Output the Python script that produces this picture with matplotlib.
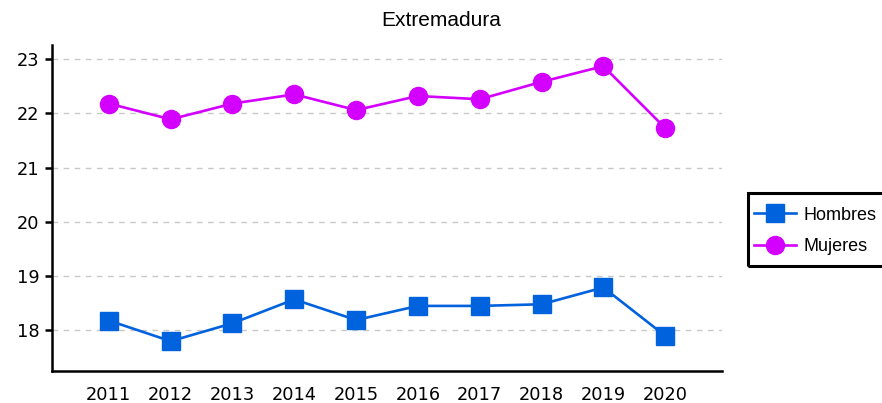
import matplotlib
matplotlib.use("Agg")
import matplotlib.pyplot as plt
from matplotlib.patches import Rectangle

years = [2011, 2012, 2013, 2014, 2015, 2016, 2017, 2018, 2019, 2020]
hombres = [18.18, 17.80, 18.13, 18.57, 18.19, 18.45, 18.45, 18.48, 18.79, 17.90]
mujeres = [22.18, 21.89, 22.18, 22.35, 22.06, 22.32, 22.26, 22.58, 22.87, 21.73]
yticks = [18, 19, 20, 21, 22, 23]
title = "Extremadura"

W, H = 882, 403
fig = plt.figure(figsize=(W/100, H/100), dpi=100)
ax = fig.add_axes([52/W, 1-371/H, (722-52)/W, (371-45)/H])

ax.plot(years, hombres, color="#0062DD", marker="s", markersize=13, linewidth=1.9,
        label="Hombres", zorder=3)
ax.plot(years, mujeres, color="#D400FF", marker="o", markersize=13, linewidth=1.9,
        label="Mujeres", zorder=3)

ax.set_xlim(2010.08, 2020.92)
ax.set_ylim(17.25, 23.26)
ax.set_xticks(years)
ax.set_xticklabels([str(y) for y in years])
ax.set_yticks(yticks)
ax.yaxis.grid(True, linestyle=(0, (4, 4)), color="#c8c8c8", linewidth=1)
ax.set_axisbelow(True)
for s in ["top", "right"]:
    ax.spines[s].set_visible(False)
for s in ["left", "bottom"]:
    ax.spines[s].set_linewidth(1.8)
ax.tick_params(axis="y", length=5, width=1.8, labelsize=12.8, pad=4)
ax.tick_params(axis="x", length=0, labelsize=12.8, pad=11)

fig.text(0.5, 1-20/H, title, ha="center", va="center", fontsize=15,
         family="Liberation Sans")

leg = fig.legend(loc="center left", bbox_to_anchor=(748/W, 1-231/H),
                 prop={"family": "Liberation Sans", "size": 13.0},
                 frameon=False, borderaxespad=0,
                 handlelength=2.3, borderpad=0.35,
                 labelspacing=0.8, handletextpad=0.45, markerscale=1.0)

frame = Rectangle((748/W, 1-266/H), (884-748)/W, (266-193)/H,
                  transform=fig.transFigure, fill=False, edgecolor="black",
                  linewidth=2.2, zorder=5)
fig.add_artist(frame)

fig.savefig("out.png", dpi=100)
